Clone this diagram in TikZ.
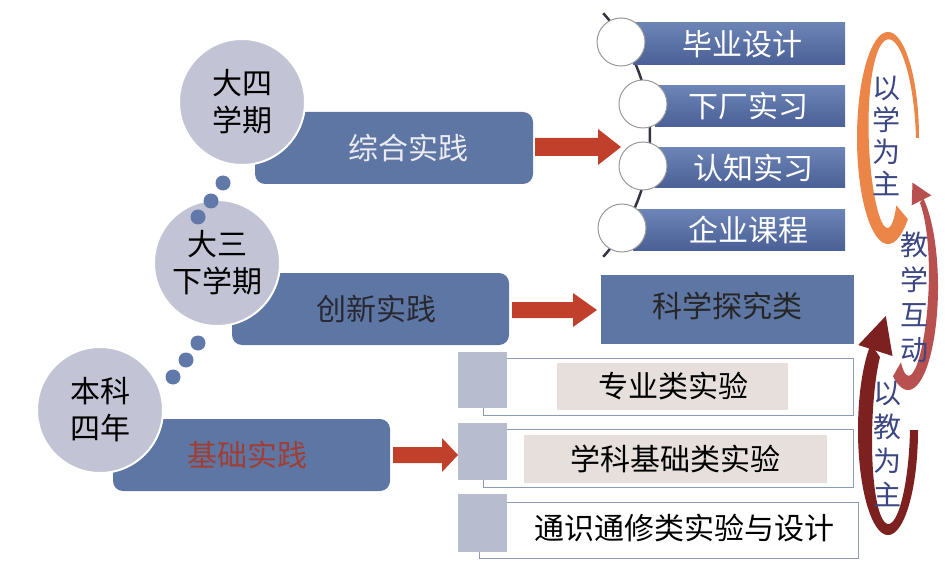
\documentclass[tikz,border=0pt]{standalone}
\usepackage{fontspec}
\setmainfont{Noto Sans CJK SC}
\definecolor{boxblue}{RGB}{94,118,163}
\definecolor{circgray}{RGB}{194,196,214}
\definecolor{dotblue}{RGB}{96,121,168}
\definecolor{arrred}{RGB}{192,64,44}
\definecolor{tbtop}{RGB}{108,132,182}
\definecolor{tbbot}{RGB}{74,96,150}
\definecolor{sqgray}{RGB}{184,188,207}
\definecolor{beige}{RGB}{230,223,220}
\definecolor{outl}{RGB}{140,155,185}
\definecolor{orangec}{RGB}{236,134,72}
\definecolor{redc}{RGB}{183,80,78}
\definecolor{maroonc}{RGB}{125,32,32}
\definecolor{vtxt}{RGB}{60,70,130}
\definecolor{lighttxt}{RGB}{235,235,242}
\definecolor{darktxt}{RGB}{40,40,50}
\definecolor{redtxt}{RGB}{160,62,52}
\definecolor{arcline}{RGB}{50,52,66}
\tikzset{
  bigbox/.style={fill=boxblue, rounded corners=10pt, inner sep=0pt},
  lbl/.style={font=\fontsize{30}{36}\selectfont, inner sep=0pt},
  bigcirc/.style={circle, fill=circgray, draw=white, line width=2pt, minimum size=126pt, inner sep=0pt, align=center, font=\fontsize{30}{37}\selectfont},
  dotc/.style={circle, fill=dotblue, minimum size=15pt, inner sep=0pt},
  topbox/.style={top color=tbtop, bottom color=tbbot, inner sep=0pt},
  smallcirc/.style={circle, fill=white, draw=gray!80, line width=1pt, minimum size=48pt, inner sep=0pt},
  outbox/.style={fill=white, draw=outl, line width=1pt, inner sep=0pt},
  sqbox/.style={fill=sqgray, inner sep=0pt},
  beigebox/.style={fill=beige, inner sep=0pt},
  vtext/.style={align=center, text=vtxt, inner sep=0pt},
  blockarrow/.style={fill=arrred}
}
\begin{document}
\begin{tikzpicture}[x=1pt,y=-1pt]
\useasboundingbox (0,0) rectangle (945,580);
% left rounded boxes
\node[bigbox, minimum width=278pt, minimum height=72pt] (zh) at (394,148) {};
\node[bigbox, minimum width=277pt, minimum height=72pt] (cx) at (370.5,309) {};
\node[bigbox, minimum width=277pt, minimum height=72pt] (jc) at (251.5,455) {};
\node[lbl, text=lighttxt] (zht) at (408,148) {综合实践};
\node[lbl, text=darktxt] (cxt) at (376,309) {创新实践};
\node[lbl, text=redtxt] (jct) at (247,455) {基础实践};
% circles
\node[bigcirc] (c4) at (242,102) {大四\\学期};
\node[bigcirc] (c3) at (217,263) {大三\\下学期};
\node[bigcirc] (c1) at (100,410) {本科\\四年};
% dots
\node[dotc] (d1) at (223,183) {};
\node[dotc] (d2) at (211,201) {};
\node[dotc] (d3) at (198,217) {};
\node[dotc] (d4) at (198,343) {};
\node[dotc] (d5) at (186,360) {};
\node[dotc] (d6) at (173,377) {};
% block arrows
\fill[blockarrow] (535,138) -- (598,138) -- (598,129) -- (621,147) -- (598,165) -- (598,156) -- (535,156) -- cycle;
\fill[blockarrow] (512,302) -- (573,302) -- (573,293) -- (597,310) -- (573,327) -- (573,318) -- (512,318) -- cycle;
\fill[blockarrow] (393,447) -- (442,447) -- (442,438) -- (458,455) -- (442,472) -- (442,463) -- (393,463) -- cycle;
% top right group
\draw[arcline, line width=2.5pt] plot[domain=-42:42, samples=40, variable=\t] ({468+182*cos(\t)},{135+182*sin(\t)});
\node[topbox, minimum width=212pt, minimum height=42pt] (b1) at (739,44) {};
\node[topbox, minimum width=190pt, minimum height=41pt] (b2) at (750,106.5) {};
\node[topbox, minimum width=190pt, minimum height=40pt] (b3) at (750,168) {};
\node[topbox, minimum width=212pt, minimum height=40pt] (b4) at (739,230) {};
\node[lbl, text=white] (b1t) at (742,44) {毕业设计};
\node[lbl, text=white] (b2t) at (748,106) {下厂实习};
\node[lbl, text=white] (b3t) at (753,168) {认知实习};
\node[lbl, text=white] (b4t) at (748,230) {企业课程};
\node[smallcirc] (r1) at (621,42) {};
\node[smallcirc] (r2) at (643,104) {};
\node[smallcirc] (r3) at (643,166) {};
\node[smallcirc] (r4) at (622,228) {};
% science box
\node[fill=boxblue, inner sep=0pt, minimum width=253pt, minimum height=69pt] (kx) at (727,309) {};
\node[lbl, text=black!85] (kxt) at (727,306) {科学探究类};
% bottom group
\node[outbox, minimum width=370pt, minimum height=57pt] (o1) at (668,386.5) {};
\node[sqbox, minimum width=49pt, minimum height=56pt] (s1) at (482.5,380) {};
\node[beigebox, minimum width=231pt, minimum height=47pt] (e1) at (672.5,386.5) {};
\node[lbl, text=black] (e1t) at (673,386) {专业类实验};
\node[outbox, minimum width=370pt, minimum height=58pt] (o2) at (668,458) {};
\node[sqbox, minimum width=49pt, minimum height=57pt] (s2) at (482.5,451.5) {};
\node[beigebox, minimum width=303pt, minimum height=48pt] (e2) at (675.5,459) {};
\node[lbl, text=black] (e2t) at (675,459) {学科基础类实验};
\node[outbox, minimum width=379pt, minimum height=56pt] (o3) at (668.5,530) {};
\node[sqbox, minimum width=49pt, minimum height=58pt] (s3) at (482.5,523) {};
\node[lbl, text=black] (o3t) at (684,528) {通识通修类实验与设计};
% crescents
\fill[orangec] plot[domain=50:360, samples=80, variable=\t] ({888+31*cos(\t)},{138+106*sin(\t)})
  -- plot[domain=360:50, samples=80, variable=\t] ({888+(31-(3+15*(360-\t)/310))*cos(\t)},{138+(106-(3+15*(360-\t)/310))*sin(\t)}) -- cycle;
\fill[maroonc] plot[domain=0:235, samples=80, variable=\t] ({888+30*cos(\t)},{430+105*sin(\t)})
  -- plot[domain=235:0, samples=80, variable=\t] ({888+(30-(8+8*\t/235))*cos(\t)},{430+(105-(8+8*\t/235))*sin(\t)}) -- cycle;
\fill[maroonc] (892.5,356) -- (885.8,316) -- (858.3,345) -- cycle;
\fill[redc] plot[domain=300:480, samples=80, variable=\t] ({908+30*cos(\t)},{287+103*sin(\t)})
  -- plot[domain=480:300, samples=80, variable=\t] ({908+(30-(6+10*(\t-300)/180))*cos(\t)},{287+(103-(6+10*(\t-300)/180))*sin(\t)}) -- cycle;
\fill[redc] (931.3,195.4) -- (912.5,182.6) -- (911.7,205.3) -- cycle;
% vertical texts
\node[vtext, font=\fontsize{28}{32}\selectfont] (v1) at (886,136) {以\\学\\为\\主};
\node[vtext, font=\fontsize{28}{35}\selectfont] (v2) at (914,297) {教\\学\\互\\动};
\node[vtext, font=\fontsize{28}{34}\selectfont] (v3) at (887,444) {以\\教\\为\\主};
\end{tikzpicture}
\end{document}
